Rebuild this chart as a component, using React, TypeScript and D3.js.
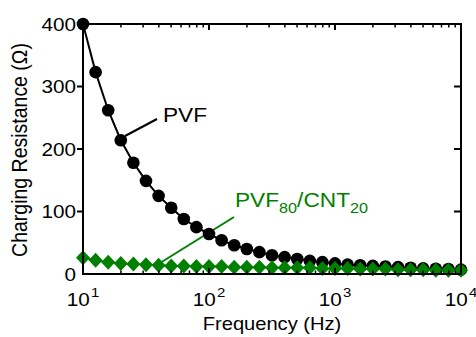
import React from "react";
import * as d3 from "d3";

const exponents = d3.range(0, 31).map((i) => 1 + i / 10);
const pvfValues = [400, 323, 262, 214, 178, 149, 125, 106, 88, 75, 64, 54, 46, 40, 35, 30, 27, 24, 21, 19, 17, 15, 14, 13, 12, 11, 10, 9, 8.5, 8, 7];
const cntValues = [26, 22, 19, 17, 16, 15, 14, 13, 13, 12, 12, 12, 11, 11, 11, 10, 10, 10, 10, 9, 9, 9, 8, 8, 8, 7, 7, 7, 6, 6, 6];
const yTicks = [0, 100, 200, 300, 400];
const xDecades = [1, 2, 3, 4];
const GREEN = "#008000";
const FONT = "'Liberation Sans', Arial, sans-serif";

export default function App() {
  const L = 83, R = 461, T = 24, B = 274;
  const x = d3.scaleLog().domain([10, 10000]).range([L, R]);
  const y = d3.scaleLinear().domain([0, 400]).range([B, T]);
  const freqs = exponents.map((e) => Math.pow(10, e));
  const line = d3.line<number>().x((_, i) => x(freqs[i])).y((d) => y(d));
  const minor: number[] = [];
  for (let dec = 1; dec < 4; dec++) for (let k = 2; k <= 9; k++) minor.push(k * Math.pow(10, dec));
  const sx = 1.15;
  const diamond = (cx: number, cy: number) => `M${cx},${cy - 7.5}L${cx + 7},${cy}L${cx},${cy + 7.5}L${cx - 7},${cy}Z`;

  return (
    <svg width={476} height={337} style={{ position: "absolute", left: 0, top: 0, background: "#fff" }} fontFamily={FONT}>
      {/* leader lines */}
      <line x1={125} y1={136} x2={157} y2={119} stroke="#000" strokeWidth={2} />
      <line x1={160} y1={263} x2={234} y2={217} stroke={GREEN} strokeWidth={2} />
      {/* PVF series */}
      <path d={line(pvfValues) || ""} fill="none" stroke="#000" strokeWidth={2} />
      {pvfValues.map((v, i) => (
        <circle key={"c" + i} cx={x(freqs[i])} cy={y(v)} r={6.3} fill="#000" />
      ))}
      {/* CNT series */}
      <path d={line(cntValues) || ""} fill="none" stroke={GREEN} strokeWidth={2} />
      {cntValues.map((v, i) => (
        <path key={"d" + i} d={diamond(x(freqs[i]), y(v))} fill={GREEN} />
      ))}
      {/* axes box */}
      <rect x={L} y={T} width={R - L} height={B - T} fill="none" stroke="#000" strokeWidth={2} />
      {/* y ticks */}
      {yTicks.map((t) => (
        <g key={"y" + t}>
          {t > 0 && t < 400 && <line x1={L - 6} x2={L} y1={y(t)} y2={y(t)} stroke="#000" strokeWidth={2} />}
          {t > 0 && t < 400 && <line x1={R - 7} x2={R} y1={y(t)} y2={y(t)} stroke="#000" strokeWidth={2} />}
          <text transform={`translate(${L - 7},${y(t) + 6.5}) scale(${sx},1)`} textAnchor="end" fontSize={18} fill="#000">{t}</text>
        </g>
      ))}
      {/* x ticks */}
      {xDecades.map((d) => (
        <g key={"x" + d}>
          <line x1={x(Math.pow(10, d))} x2={x(Math.pow(10, d))} y1={T} y2={T + 6} stroke="#000" strokeWidth={2} />
          <line x1={x(Math.pow(10, d))} x2={x(Math.pow(10, d))} y1={B} y2={B - 6} stroke="#000" strokeWidth={2} />
          <text transform={`translate(${x(Math.pow(10, d))},306) scale(${sx},1)`} fontSize={18} fill="#000" textAnchor="middle">
            10<tspan fontSize={13} dy={-9} dx={1}>{d}</tspan>
          </text>
        </g>
      ))}
      {minor.map((m) => (
        <g key={"m" + m}>
          <line x1={x(m)} x2={x(m)} y1={T} y2={T + 3.5} stroke="#000" strokeWidth={1.5} />
          <line x1={x(m)} x2={x(m)} y1={B} y2={B - 3.5} stroke="#000" strokeWidth={1.5} />
        </g>
      ))}
      {/* axis titles */}
      <text transform={`translate(272,330) scale(${sx},1)`} textAnchor="middle" fontSize={17.5} fill="#000">Frequency (Hz)</text>
      <text transform={`translate(27,150) rotate(-90) scale(1,1.1)`} textAnchor="middle" fontSize={19.5} fill="#000">Charging Resistance (Ω)</text>
      {/* series labels */}
      <text transform={`translate(163,122) scale(1.08,1)`} fontSize={21} fill="#000">PVF</text>
      <text transform={`translate(235,207) scale(1.08,1)`} fontSize={21} fill={GREEN}>
        PVF<tspan fontSize={15} dy={6}>80</tspan><tspan dy={-6}>/CNT</tspan><tspan fontSize={15} dy={6}>20</tspan>
      </text>
    </svg>
  );
}
